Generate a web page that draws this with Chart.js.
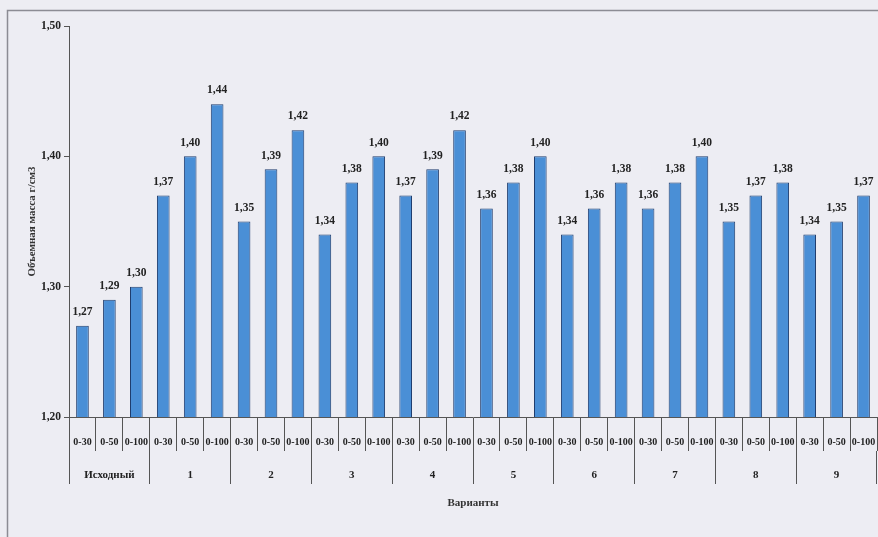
<!DOCTYPE html>
<html>
<head>
<meta charset="utf-8">
<script src="https://cdn.jsdelivr.net/npm/chart.js@4/dist/chart.umd.min.js"></script>
<style>
html,body{margin:0;padding:0;background:#ededf3;}
#wrap{width:878px;height:537px;position:relative;}
</style>
</head>
<body>
<div id="wrap"><canvas id="c" width="878" height="537"></canvas></div>
<script>
const depths = ['0-30','0-50','0-100'];
const groups = ['Исходный','1','2','3','4','5','6','7','8','9'];
const categories = groups.flatMap(() => depths);
const values = [
  1.27, 1.29, 1.30,
  1.37, 1.40, 1.44,
  1.35, 1.39, 1.42,
  1.34, 1.38, 1.40,
  1.37, 1.39, 1.42,
  1.36, 1.38, 1.40,
  1.34, 1.36, 1.38,
  1.36, 1.38, 1.40,
  1.35, 1.37, 1.38,
  1.34, 1.35, 1.37
];
const yTicks = [1.20, 1.30, 1.40, 1.50];

const fmt = v => v.toFixed(2).replace('.', ',');

const framePlugin = {
  id: 'frame',
  beforeDraw(chart) {
    const ctx = chart.ctx;
    ctx.save();
    ctx.fillStyle = '#ededf3';
    ctx.fillRect(0, 0, chart.width, chart.height);
    ctx.strokeStyle = '#8c8c94';
    ctx.lineWidth = 1.5;
    ctx.strokeRect(7.5, 10.5, chart.width + 20, chart.height + 20);
    ctx.restore();
  }
};

const valueLabels = {
  id: 'valueLabels',
  afterDatasetsDraw(chart) {
    const ctx = chart.ctx;
    const meta = chart.getDatasetMeta(0);
    ctx.save();
    ctx.font = 'bold 11.5px "Liberation Serif"';
    ctx.fillStyle = '#222';
    ctx.textAlign = 'center';
    ctx.textBaseline = 'bottom';
    meta.data.forEach((bar, i) => {
      ctx.fillText(fmt(values[i]), bar.x, bar.y - 8);
    });
    ctx.restore();
  }
};

new Chart(document.getElementById('c'), {
  type: 'bar',
  data: {
    labels: categories,
    datasets: [{
      data: values,
      backgroundColor: '#4a8fd6',
      borderColor: '#1f3d6e',
      borderWidth: 1,
      barPercentage: 0.47,
      categoryPercentage: 1.0,
      xAxisID: 'x',
      yAxisID: 'y'
    }]
  },
  options: {
    responsive: false,
    animation: false,
    devicePixelRatio: 1,
    layout: { padding: { left: 0, right: 1, top: 26, bottom: 0 } },
    plugins: { legend: { display: false }, tooltip: { enabled: false } },
    scales: {
      y: {
        min: 1.2, max: 1.5,
        afterBuildTicks: s => { s.ticks = yTicks.map(v => ({ value: v })); },
        afterFit: s => { s.width = 69; },
        ticks: {
          callback: v => fmt(v),
          font: { family: 'Liberation Serif', weight: 'bold', size: 11.5 },
          color: '#222',
          padding: 3
        },
        grid: { drawOnChartArea: false, tickLength: 5, color: '#555' },
        border: { color: '#555', width: 1 },
        title: {
          display: true,
          text: 'Объемная масса г/см3',
          font: { family: 'Liberation Serif', weight: 'bold', size: 11 },
          color: '#333',
          padding: { top: 26, bottom: 0 }
        }
      },
      x: {
        position: 'bottom',
        afterFit: s => { s.height = 34; },
        ticks: {
          autoSkip: false, maxRotation: 0, minRotation: 0,
          font: { family: 'Liberation Serif', weight: 'bold', size: 10 },
          color: '#222',
          padding: -15
        },
        grid: { offset: true, drawOnChartArea: false, tickLength: 34, color: '#555' },
        border: { color: '#555', width: 1 }
      },
      x2: {
        type: 'category',
        position: 'bottom',
        labels: groups,
        offset: true,
        afterFit: s => { s.height = 86; },
        ticks: {
          autoSkip: false, maxRotation: 0, minRotation: 0,
          font: { family: 'Liberation Serif', weight: 'bold', size: 11 },
          color: '#222',
          padding: -15
        },
        grid: { offset: true, drawOnChartArea: false, tickLength: 33, color: '#555' },
        border: { display: false },
        title: {
          display: true,
          text: 'Варианты',
          font: { family: 'Liberation Serif', weight: 'bold', size: 11 },
          color: '#333',
          padding: { top: 0, bottom: 27 }
        }
      }
    }
  },
  plugins: [framePlugin, valueLabels]
});
</script>
</body>
</html>
